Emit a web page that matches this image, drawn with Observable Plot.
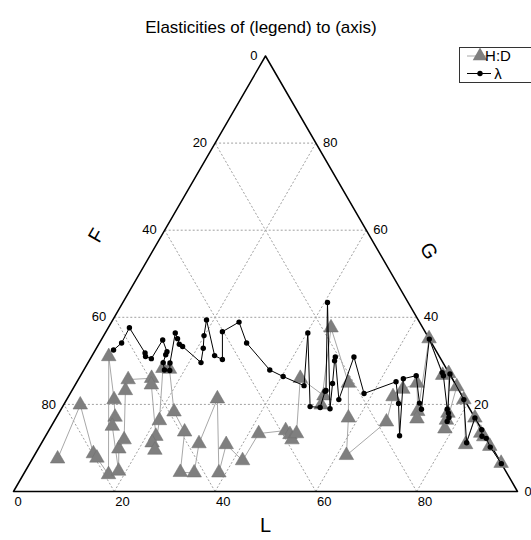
<!DOCTYPE html>
<html><head><meta charset="utf-8">
<script src="https://cdn.jsdelivr.net/npm/d3@7"></script>
<script src="https://cdn.jsdelivr.net/npm/@observablehq/plot@0.6"></script>
<style>
body{margin:0;background:#fff;}
#chart{position:relative;width:531px;height:540px;overflow:hidden;}
</style></head><body><div id="chart"></div>
<script>
const title = "Elasticities of (legend) to (axis)";
const seriesNames = ["H:D", "λ"];
const axisNames = {L: "L", F: "F", G: "G"};
const tickValues = [0, 20, 40, 60, 80];
const gridValues = [20, 40, 60, 80];

// H:D series (percent of L and G; F = 100 - L - G)
const hdL = [5.0,3.3,11.5,12.7,16.9,3.4,9.4,11.6,12.1,18.5,16.0,16.0,10.6,9.9,14.4,15.1,21.9,21.9,23.3,20.8,15.5,16.9,22.7,27.1,30.9,33.7,31.3,29.8,38.6,36.8,41.9,42.0,47.0,48.3,49.3,49.5,43.9,50.6,51.1,44.2,54.0,58.0,61.9,66.0,64.4,65.5,67.6,71.0,71.7,64.9,71.8,72.8,77.2,77.7,78.4,75.9,78.8,84.3,83.1,86.0,87.0,89.3,93.5];
const hdG = [7.5,19.9,8.7,7.7,3.9,31.0,21.1,17.1,15.0,4.7,9.8,11.9,23.2,25.7,26.0,24.5,12.7,11.2,9.5,16.3,28.3,28.1,18.3,13.7,4.4,4.3,11.0,21.3,4.3,10.8,7.1,13.3,14.0,13.1,11.9,13.3,26.0,22.0,19.9,37.6,24.9,16.9,8.3,16.0,21.8,23.5,24.9,18.4,16.7,35.1,26.7,27.1,18.0,16.4,14.4,24.1,21.1,10.8,16.9,13.4,12.6,10.4,6.5];

// λ series
const lamL = [3.6,4.4,4.2,10.2,10.7,12.1,12.2,14.4,14.5,14.9,16.0,17.1,16.3,13.9,15.0,16.0,16.9,22.4,21.2,19.9,18.6,24.3,26.3,23.1,25.3,29.2,36.9,40.3,45.5,40.2,49.1,51.2,50.3,50.4,40.6,53.3,50.9,48.7,48.4,54.0,52.1,58.3,63.3,66.3,70.2,64.4,66.6,70.4,71.5,65.0,71.4,72.0,76.6,77.3,77.9,78.0,73.1,78.8,84.3,83.1,85.8,86.6,87.7,89.5,93.6];
const lamG = [32.5,34.1,37.6,31.8,31.0,30.5,34.8,32.1,31.4,29.6,27.9,27.8,29.5,36.4,35.1,33.8,33.3,29.6,32.9,35.8,39.4,31.2,30.3,36.7,38.9,34.1,27.9,26.4,24.3,36.4,19.5,19.3,23.0,23.2,43.4,19.0,24.8,30.0,30.9,21.1,30.9,22.5,25.2,20.2,12.8,25.9,26.6,20.3,18.9,35.0,27.3,26.6,18.9,18.0,17.0,16.1,27.0,21.1,11.2,16.9,14.2,12.7,12.2,10.2,6.4];

const rows = (Ls, Gs) => Ls.map((L, i) => ({L, G: Gs[i], F: 100 - L - Gs[i]}));
const hd = rows(hdL, hdG);
const lam = rows(lamL, lamG);
// ternary projection: horizontal = L + G/2, vertical = G
const tx = d => d.L + d.G / 2;
const ty = d => d.G;

const corners = [{L:0,G:0},{L:100,G:0},{L:0,G:100},{L:0,G:0}];
const grid = [
  ...gridValues.map(g => ({x1: g/2, y1: g, x2: 100 - g/2, y2: g})),
  ...gridValues.map(l => ({x1: l, y1: 0, x2: l + (100-l)/2, y2: 100 - l})),
  ...gridValues.map(f => ({x1: 100 - f, y1: 0, x2: (100 - f)/2, y2: 100 - f}))
];
const font = "'Liberation Sans', Arial, Helvetica, sans-serif";

const chart = Plot.plot({
  width: 531, height: 540,
  marginLeft: 13, marginRight: 14, marginTop: 55.5, marginBottom: 49,
  x: {domain: [0, 100], axis: null},
  y: {domain: [0, 100], axis: null},
  style: {fontFamily: font, background: "white", color: "black", overflow: "visible"},
  marks: [
    Plot.link(grid, {x1: "x1", y1: "y1", x2: "x2", y2: "y2", stroke: "#a0a0a0", strokeWidth: 1, strokeDasharray: "2,2"}),
    Plot.line(corners, {x: tx, y: ty, stroke: "black", strokeWidth: 1.5}),
    // tick labels
    Plot.text(tickValues, {x: d => d, y: 0, text: d => String(d), textAnchor: "start", dx: 1, dy: 10, fontSize: 13}),
    Plot.text(tickValues, {x: d => (100 - d)/2, y: d => 100 - d, text: d => String(d), textAnchor: "end", dx: -8, fontSize: 13}),
    Plot.text(tickValues, {x: d => 100 - d/2, y: d => d, text: d => String(d), textAnchor: "start", dx: 7, fontSize: 13}),
    // axis titles
    Plot.text([axisNames.L], {frameAnchor: "bottom", dy: 40, fontSize: 20}),
    Plot.text([axisNames.F], {frameAnchor: "left", dx: 80, dy: -33, fontSize: 20, rotate: -60}),
    Plot.text([axisNames.G], {frameAnchor: "right", dx: -85, dy: -16, fontSize: 20, rotate: 60}),
    // title
    Plot.text([title], {frameAnchor: "top", dx: -4.5, dy: -35.5, fontSize: 17}),
    // series
    Plot.line(hd, {x: tx, y: ty, stroke: "#a8a8a8", strokeWidth: 1}),
    Plot.dot(hd, {x: tx, y: ty, symbol: "triangle", r: 5.4, fill: "#7f7f7f", stroke: "#6f6f6f", strokeWidth: 0.5}),
    Plot.line(lam, {x: tx, y: ty, stroke: "black", strokeWidth: 1}),
    Plot.dot(lam, {x: tx, y: ty, r: 2.7, fill: "black"})
  ]
});
document.getElementById("chart").appendChild(chart);

// legend box (top right)
const svg = d3.select(chart);
const lg = svg.append("g").attr("font-family", font).attr("font-size", 15);
lg.append("rect").attr("x", 459.5).attr("y", 47.5).attr("width", 90).attr("height", 35)
  .attr("fill", "white").attr("stroke", "#333").attr("stroke-width", 1);
const entries = [
  {name: seriesNames[0], y: 56, stroke: "#a8a8a8", sym: d3.symbolTriangle, size: Math.PI * 5.4 * 5.4, fill: "#7f7f7f"},
  {name: seriesNames[1], y: 73.5, stroke: "black", sym: d3.symbolCircle, size: Math.PI * 2.7 * 2.7, fill: "black"}
];
for (const e of entries) {
  lg.append("line").attr("x1", 467).attr("x2", 491).attr("y1", e.y).attr("y2", e.y).attr("stroke", e.stroke);
  lg.append("path").attr("d", d3.symbol(e.sym, e.size)()).attr("transform", `translate(480,${e.y})`).attr("fill", e.fill);
  lg.append("text").attr("x", 498).attr("y", e.y).attr("dy", "0.35em").text(e.name);
}
</script>
</body></html>
